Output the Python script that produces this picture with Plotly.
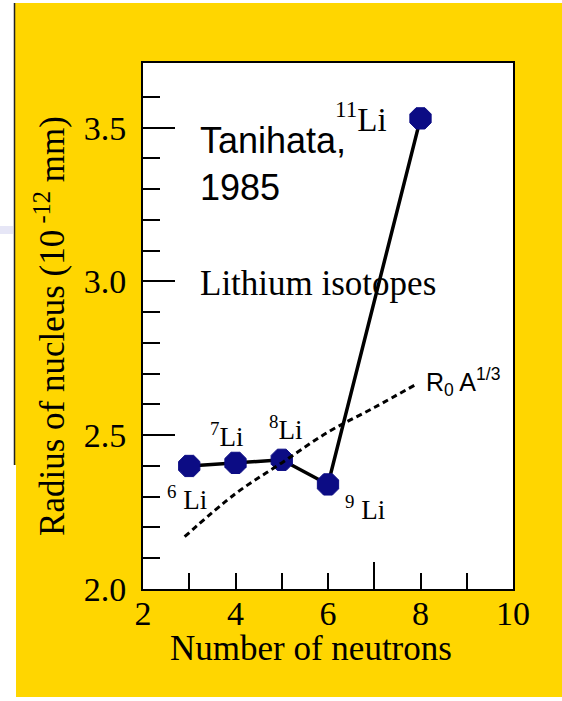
import plotly.graph_objects as go

# Measured charge radii of lithium isotopes
neutrons = [3, 4, 5, 6, 8]
radius = [2.40, 2.41, 2.42, 2.34, 3.53]
mass_numbers = [6, 7, 8, 9, 11]

# R0 * A^(1/3) reference curve
curve_n = [2.9, 4, 5, 6, 7, 7.9]
curve_r = [2.17, 2.31, 2.41, 2.51, 2.59, 2.665]

x_ticks = [2, 4, 6, 8, 10]
x_minor = [3, 5, 7, 9]
y_ticks = [2.0, 2.5, 3.0, 3.5]
y_minor = [2.1, 2.2, 2.3, 2.4, 2.6, 2.7, 2.8, 2.9, 3.1, 3.2, 3.3, 3.4, 3.6]

GOLD = "#FFD600"
NAVY = "#0C0C84"
SERIF = "Liberation Serif"
SANS = "Liberation Sans"

W, H = 562, 701
L, R, T, B = 143, 513, 63, 589


def px(x):
    return (x - L) / (R - L)


def py(y):
    return (B - y) / (B - T)


fig = go.Figure()

fig.add_trace(go.Scatter(
    x=curve_n, y=curve_r, mode="lines",
    line=dict(color="black", width=3, dash="6px,4px", shape="spline"),
    xaxis="x2", hoverinfo="skip", showlegend=False,
))

fig.add_trace(go.Scatter(
    x=neutrons, y=radius, mode="lines+markers",
    line=dict(color="black", width=3.5),
    marker=dict(symbol="octagon", size=23, color=NAVY,
                line=dict(color=NAVY, width=1)),
    showlegend=False,
))

# isotope labels placed around each point
label_offsets = {6: (-2, -32), 7: (-9, 28), 8: (4, 32), 9: (37, -24), 11: (-60, 1)}
annotations = []
for n, r, a in zip(neutrons, radius, mass_numbers):
    dx, dy = label_offsets[a]
    size = 33 if a == 11 else 27
    gap = " " if a in (6, 9) else ""
    annotations.append(dict(
        x=n, y=r, xref="x", yref="y", showarrow=False,
        text=f"<sup>{a}</sup>{gap}Li", xshift=dx, yshift=dy,
        font=dict(family=SERIF, size=size, color="black"),
    ))

annotations += [
    dict(x=curve_n[-1], y=curve_r[-1], xref="x", yref="y", showarrow=False,
         text="R<sub>0</sub> A<sup>1/3</sup>", xanchor="left", xshift=8, yshift=2,
         font=dict(family=SANS, size=25, color="black")),
    dict(x=px(198), y=py(118), xref="paper", yref="paper", showarrow=False,
         text="Tanihata,<br>1985", xanchor="left", yanchor="top", align="left",
         font=dict(family=SANS, size=36, color="black")),
    dict(x=px(198), y=py(283), xref="paper", yref="paper", showarrow=False,
         text="Lithium isotopes", xanchor="left", yanchor="middle",
         font=dict(family=SERIF, size=35, color="black")),
    dict(x=px(311), y=py(648), xref="paper", yref="paper", showarrow=False,
         text="Number of neutrons", xanchor="center", yanchor="middle",
         font=dict(family=SERIF, size=35, color="black")),
]

# edges of the page outside the gold panel
shapes = [
    dict(type="rect", xref="paper", yref="paper", x0=px(-10), x1=px(W + 10),
         y0=py(3), y1=py(-10), fillcolor="white", line=dict(width=0)),
    dict(type="rect", xref="paper", yref="paper", x0=px(-10), x1=px(W + 10),
         y0=py(H + 10), y1=py(697), fillcolor="white", line=dict(width=0)),
    dict(type="rect", xref="paper", yref="paper", x0=px(-10), x1=px(14),
         y0=py(465), y1=py(-10), fillcolor="white", line=dict(width=0)),
    dict(type="rect", xref="paper", yref="paper", x0=px(-10), x1=px(16),
         y0=py(H + 10), y1=py(465), fillcolor="white", line=dict(width=0)),
    dict(type="rect", xref="paper", yref="paper", x0=px(-10), x1=px(13),
         y0=py(234), y1=py(226), fillcolor="#E6E6F6", line=dict(width=0)),
    dict(type="line", xref="paper", yref="paper", x0=px(14.5), x1=px(14.5),
         y0=py(465), y1=py(3), line=dict(color="#222222", width=1.5)),
]

axis_common = dict(
    showgrid=False, zeroline=False, showline=True, linecolor="black",
    linewidth=2, mirror=True, ticks="inside", tickcolor="black", tickwidth=1.5,
    tickfont=dict(family=SERIF, size=34, color="black"),
)

fig.update_layout(
    width=W, height=H,
    margin=dict(l=L, r=W - R, t=T, b=H - B),
    paper_bgcolor=GOLD, plot_bgcolor="white",
    xaxis=dict(
        **axis_common, range=[2, 10], tickmode="array", tickvals=x_ticks,
        ticklen=16, ticklabelstandoff=-7,
        minor=dict(tickmode="array", tickvals=[v for v in x_minor if v != 7],
                   ticks="inside", ticklen=16, tickcolor="black", tickwidth=1.5),
    ),
    xaxis2=dict(
        overlaying="x", matches="x", range=[2, 10], anchor="y", side="bottom",
        showgrid=False, zeroline=False, showline=False, showticklabels=False,
        tickmode="array", tickvals=[7], ticks="inside", ticklen=27,
        tickcolor="black", tickwidth=1.5,
    ),
    yaxis=dict(
        **axis_common, range=[2.0, 3.71], tickmode="array", tickvals=y_ticks,
        tickformat=".1f", ticklen=32, ticklabelstandoff=8,
        minor=dict(tickmode="array", tickvals=y_minor, ticks="inside",
                   ticklen=17, tickcolor="black", tickwidth=1.5),
        title=dict(text="Radius of nucleus (10<sup> -12</sup> mm)",
                   font=dict(family=SERIF, size=35, color="black"), standoff=8),
    ),
    annotations=annotations,
    shapes=shapes,
)

fig.write_html("out.html")
